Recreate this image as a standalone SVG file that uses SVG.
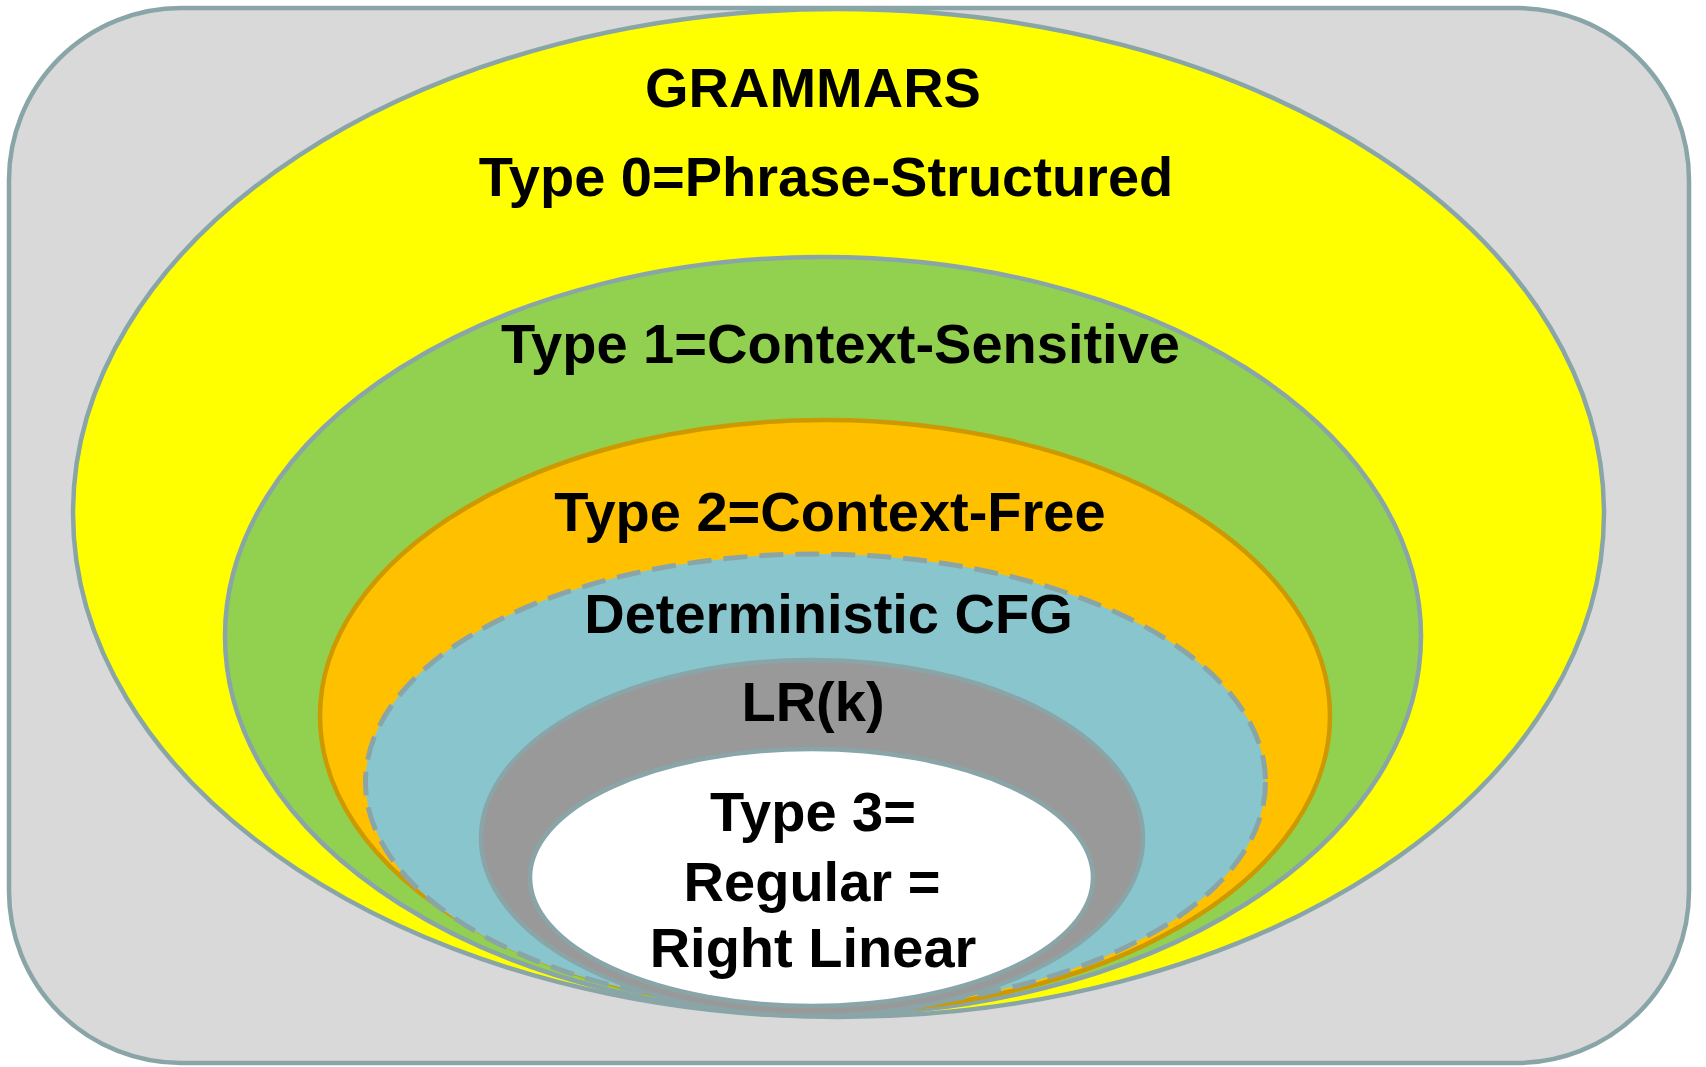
<svg xmlns="http://www.w3.org/2000/svg" width="1706" height="1067" viewBox="0 0 1706 1067">
<style>
.t{font-family:"Liberation Sans",Arial,sans-serif;font-weight:bold;font-size:56px;fill:#000;text-anchor:middle}
.s{stroke:#8AA5A8;stroke-width:4.5}
</style>
<rect width="1706" height="1067" fill="#FFFFFF"/>
<g id="frame"><rect x="9" y="8" width="1680" height="1055" rx="172" ry="172" fill="#D9D9D9" class="s"/></g>
<g id="type0"><ellipse cx="838.5" cy="513" rx="765.5" ry="504" fill="#FFFF00" class="s"/></g>
<g id="type1"><ellipse cx="823" cy="636" rx="598" ry="379" fill="#92D050" class="s"/></g>
<g id="type2"><ellipse cx="825" cy="716" rx="505" ry="296" fill="#FFC000" stroke="#CC9A00" stroke-width="4.5"/></g>
<g id="dcfg"><ellipse cx="815.5" cy="782" rx="450" ry="228" fill="#89C5CD" stroke="#8AA5A8" stroke-width="5" stroke-dasharray="24 12"/></g>
<g id="lrk"><ellipse cx="812" cy="838" rx="331" ry="178" fill="#999999" class="s"/></g>
<g id="type3"><ellipse cx="811.5" cy="877.5" rx="281.5" ry="128.5" fill="#FFFFFF" class="s"/></g>
<g id="connectors"></g>
<g id="labels">
<text class="t" x="813" y="107">GRAMMARS</text>
<text class="t" x="826" y="196">Type 0=Phrase-Structured</text>
<text class="t" x="840.5" y="363">Type 1=Context-Sensitive</text>
<text class="t" x="830" y="531">Type 2=Context-Free</text>
<text class="t" x="828.5" y="633">Deterministic CFG</text>
<text class="t" x="813" y="721">LR(k)</text>
<text class="t" x="813" y="831">Type 3=</text>
<text class="t" x="812" y="901">Regular =</text>
<text class="t" x="813" y="967">Right Linear</text>
</g>
</svg>
